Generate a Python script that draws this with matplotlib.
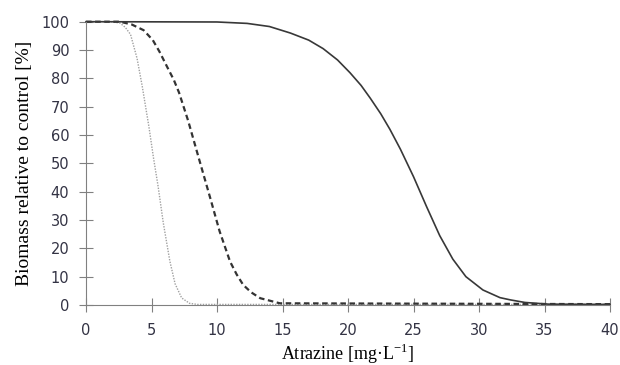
import matplotlib.pyplot as plt

# values (atrazine mg/L, biomass %)
x_dotted = [0, 2.0, 2.6, 3.0, 3.4, 3.9, 4.3, 4.8, 5.15, 5.5, 5.9, 6.4, 6.8, 7.3, 7.9, 8.5, 40]
y_dotted = [100, 100, 99.5, 98, 95.5, 87, 77, 63, 52, 42, 29, 15.5, 7.5, 2.5, 0.6, 0.2, 0.2]

x_dashed = [0, 2.6, 3.5, 4.4, 5.1, 5.6, 6.2, 6.7, 7.1, 7.8, 8.6, 9.5, 10.2, 11.0, 11.5, 12.0,
            12.6, 13.3, 14.8, 40]
y_dashed = [100, 100, 99, 97, 93.5, 89.5, 84, 79.5, 75, 65, 52, 37.5, 26, 15.3, 10.8, 7.1,
            4.5, 2.4, 0.6, 0.3]

x_solid = [0, 10, 12.3, 14, 15.6, 17, 18.1, 19.2, 20.15, 21, 21.7, 22.5, 23.2, 24, 25, 26,
           27, 28, 29, 30.3, 31.6, 32.4, 33.5, 35.3, 40]
y_solid = [100, 99.9, 99.4, 98.3, 96, 93.5, 90.5, 86.5, 82, 77.5, 73, 67.5, 62, 55, 45.3, 34.7,
           24.5, 16.2, 10, 5.3, 2.6, 1.8, 0.9, 0.3, 0.2]

x_ticks = [0, 5, 10, 15, 20, 25, 30, 35, 40]
y_ticks = [0, 10, 20, 30, 40, 50, 60, 70, 80, 90, 100]

fig = plt.figure(figsize=(6.2, 3.65), dpi=100)
ax = fig.add_axes([86/620, 1 - 305/365, 524/620, (305 - 21.7)/365])

ax.plot(x_dotted, y_dotted, color="#a0a0a0", lw=1.0, ls=(0, (1, 1)), clip_on=False)
ax.plot(x_dashed, y_dashed, color="#333333", lw=1.6, ls=(0, (2.5, 1.6)), clip_on=False)
ax.plot(x_solid, y_solid, color="#383838", lw=1.2, clip_on=False)

ax.set_xlim(0, 40)
ax.set_ylim(0, 100)
ax.set_xticks(x_ticks)
ax.set_yticks(y_ticks)
for s in ["top", "right"]:
    ax.spines[s].set_visible(False)
for s in ["left", "bottom"]:
    ax.spines[s].set_color("#808080")
ax.tick_params(direction="inout", length=10, width=0.8, color="#808080",
               labelsize=10.5, labelcolor="#333344")
ax.tick_params(axis="x", pad=8)
ax.tick_params(axis="y", pad=7)

ax.set_xlabel("Atrazine [mg·L$^{\\mathregular{-1}}$]", family="Liberation Serif",
              fontsize=13, labelpad=3)
ax.set_ylabel("Biomass relative to control [%]", family="Liberation Serif",
              fontsize=14, labelpad=6)

plt.savefig("out.png")
